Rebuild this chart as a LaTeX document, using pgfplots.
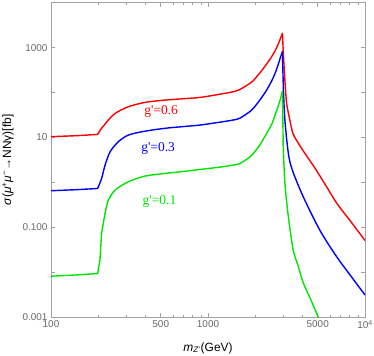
\documentclass[border=0pt]{standalone}
\usepackage{pgfplots}
\pgfplotsset{compat=1.18}
\usepackage{fontspec}
\setmainfont{Liberation Sans}
\newfontfamily\tnr{Liberation Serif}
\definecolor{axgray}{RGB}{160,160,160}
\definecolor{tickgray}{RGB}{105,105,105}
\definecolor{cred}{RGB}{255,0,0}
\definecolor{cblue}{RGB}{0,0,255}
\definecolor{cgreen}{RGB}{0,230,0}

\pgfplotstableread{
m v
100 10.4
150 11.0
198 11.7
210 16.0
232 24.4
256 34.4
311 48.3
397 60.5
532 68
700 73
889 78
1150 90
1442 104
1600 118
1854 161
1945 185
2150 280
2365 435
2550 640
2673 850
2800 1200
2880 1540
2980 2090
3020 740
3090 185
3170 57
3325 24
3475 12.2
3700 8.2
4030 5.1
4810 2.05
5500 0.97
6620 0.34
8000 0.143
10000 0.051
}\redtab

\pgfplotstableread{
m v
100 0.65
150 0.69
198 0.73
210 1.22
221 2.42
238 4.8
268 8.0
311 11.3
397 13.8
532 16.0
700 17.5
889 18.9
1150 21.5
1442 24.4
1600 27
1854 38
1945 44.5
2150 70
2365 114
2550 185
2673 268
2800 420
2880 580
2980 815
3020 130
3090 24
3250 4.4
3450 1.85
4050 0.47
5165 0.085
6600 0.022
8000 0.0088
10000 0.0031
}\bluetab

\pgfplotstableread{
m v
100 0.0081
150 0.0087
198 0.0093
205 0.0185
210 0.073
221 0.203
232 0.40
256 0.67
311 1.03
397 1.38
532 1.58
700 1.75
889 1.94
1150 2.15
1442 2.42
1600 2.64
1854 3.7
1945 4.4
2150 7.0
2365 12.3
2550 20
2673 31.6
2800 50
2880 68
2980 108
3010 8
3020 5.2
3090 0.95
3250 0.17
3490 0.031
3750 0.0138
4050 0.0057
4500 0.0025
5035 0.001
}\greentab

\begin{document}
\begin{tikzpicture}
\useasboundingbox (-51bp,-39bp) rectangle (323bp,317bp);
\begin{axis}[
  at={(0,0)}, anchor=south west,
  scale only axis, width=314bp, height=314.2bp,
  xmode=log, ymode=log,
  xmin=100, xmax=10000, ymin=0.001, ymax=10000,
  axis line style={axgray, line width=0.8bp},
  every tick/.style={axgray, line width=0.6bp},
  major tick length=4bp, minor tick length=2.5bp,
  tick align=inside,
  xtick={100,500,1000,5000,10000},
  xticklabels={100,500,1000,5000,10\textsuperscript{4}},
  minor xtick={200,300,400,600,700,800,900,2000,3000,4000,6000,7000,8000,9000},
  ytick={0.001,0.01,0.1,1,10,100,1000,10000},
  yticklabels={0.001,,0.100,,10,,1000,},
  yminorticks=false,
  /pgf/number format/assume math mode=true,
  ticklabel style={font=\fontsize{10}{12}\selectfont, text=tickgray},
  xlabel={\textit{m}\textsubscript{\textit{Z}'}(GeV)},
  ylabel={\textit{σ}(\textit{μ}\textsuperscript{+}\textit{μ}\textsuperscript{−}→NNγ)[fb]},
  label style={font=\fontsize{12}{14}\selectfont, text=black},
  xlabel style={at={(axis description cs:0.5,-0.099)}, anchor=center},
  ylabel style={at={(axis description cs:-0.137,0.5)}, anchor=center},
  every axis plot/.append style={line width=1.4bp, line cap=round, line join=round},
]
% red g'=0.6
\addplot[cred] table[x=m,y=v, skip coords between index={3}{100}] {\redtab};
\addplot[cred, smooth, tension=0.5] table[x=m,y=v, skip coords between index={0}{2}, skip coords between index={23}{100}] {\redtab};
\addplot[cred, smooth, tension=0.5] table[x=m,y=v, skip coords between index={0}{22}] {\redtab};
% blue g'=0.3
\addplot[cblue] table[x=m,y=v, skip coords between index={3}{100}] {\bluetab};
\addplot[cblue, smooth, tension=0.5] table[x=m,y=v, skip coords between index={0}{2}, skip coords between index={24}{100}] {\bluetab};
\addplot[cblue, smooth, tension=0.5] table[x=m,y=v, skip coords between index={0}{23}] {\bluetab};
% green g'=0.1
\addplot[cgreen] table[x=m,y=v, skip coords between index={5}{100}] {\greentab};
\addplot[cgreen, smooth, tension=0.5] table[x=m,y=v, skip coords between index={0}{4}, skip coords between index={25}{100}] {\greentab};
\addplot[cgreen] table[x=m,y=v, skip coords between index={0}{24}, skip coords between index={26}{100}] {\greentab};
\addplot[cgreen, smooth, tension=0.5] table[x=m,y=v, skip coords between index={0}{25}] {\greentab};
\node[text=cred, font=\tnr\fontsize{13.5}{15}\selectfont] at (axis cs:503,38.7) {g\textquotesingle=0.6};
\node[text=cblue, font=\tnr\fontsize{13.5}{15}\selectfont] at (axis cs:481,5.8) {g\textquotesingle=0.3};
\node[text=cgreen, font=\tnr\fontsize{13.5}{15}\selectfont] at (axis cs:491,0.38) {g\textquotesingle=0.1};
\end{axis}
\end{tikzpicture}
\end{document}
